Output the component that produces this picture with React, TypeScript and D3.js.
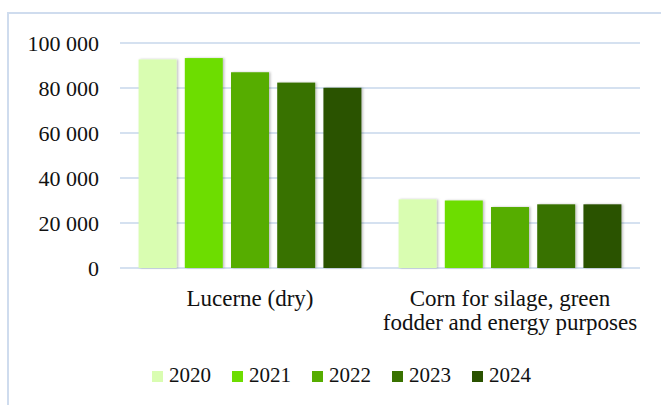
import React from "react";
import * as d3 from "d3";

const width = 661;
const height = 405;

const categories = ["Lucerne (dry)", "Corn for silage, green fodder and energy purposes"];
const categoryLines = [["Lucerne (dry)"], ["Corn for silage, green", "fodder and energy purposes"]];
const years = ["2020", "2021", "2022", "2023", "2024"];
const lucerne = [92700, 93300, 87000, 82400, 80100];
const corn = [30500, 30000, 27100, 28300, 28300];
const yTicks = [0, 20000, 40000, 60000, 80000, 100000];
const colors = ["#d9fdb1", "#6ddd00", "#56ad00", "#397200", "#2a5200"];

const series = [lucerne, corn];
const font = "'Times New Roman', Times, 'Liberation Serif', 'DejaVu Serif', serif";

const App = () => {
  const x0 = d3.scaleBand().domain(categories).range([120, 640]).paddingInner(0.143).paddingOuter(0.0715);
  const x1 = d3.scaleBand().domain(years).range([0, x0.bandwidth()]).paddingInner(0.178).paddingOuter(0);
  const y = d3.scaleLinear().domain([0, 100000]).range([268, 43]);
  const fmt = (v: number) => d3.format(",")(v).replace(/,/g, " ");

  const legendX = d3.scalePoint().domain(years).range([152, 472]);

  return (
    <svg width={width} height={height} style={{ position: "absolute", left: 0, top: 0, background: "#fff" }}>
      <defs>
        <filter id="shadow" x="-20%" y="-5%" width="140%" height="110%">
          <feDropShadow dx="1.5" dy="0" stdDeviation="1.2" floodColor="#000" floodOpacity="0.25" />
        </filter>
      </defs>
      {/* chart frame */}
      <rect x={8} y={13} width={700} height={450} fill="none" stroke="#cfdcee" strokeWidth={2} />

      {/* grid + y labels */}
      {yTicks.map((t) => (
        <g key={t}>
          <line x1={120} x2={640} y1={y(t)} y2={y(t)} stroke="#d5e1f0" strokeWidth={2} />
          <text x={99} y={y(t)} dy="0.35em" textAnchor="end" fontFamily={font} fontSize={22} fill="#111">
            {fmt(t)}
          </text>
        </g>
      ))}

      {/* bars */}
      {categories.map((c, ci) => (
        <g key={c} transform={`translate(${x0(c)},0)`}>
          {series[ci].map((v, i) => (
            <rect
              key={years[i]}
              x={x1(years[i])}
              y={y(v)}
              width={x1.bandwidth()}
              height={y(0) - y(v)}
              fill={colors[i]}
              filter="url(#shadow)"
            />
          ))}
        </g>
      ))}

      {/* category labels */}
      {categories.map((c, ci) => (
        <text
          key={c}
          x={(x0(c) || 0) + x0.bandwidth() / 2}
          y={306}
          textAnchor="middle"
          fontFamily={font}
          fontSize={23}
          fill="#111"
        >
          {categoryLines[ci].map((l, li) => (
            <tspan key={li} x={(x0(c) || 0) + x0.bandwidth() / 2} dy={li === 0 ? 0 : 24}>
              {l}
            </tspan>
          ))}
        </text>
      ))}

      {/* legend */}
      {years.map((yr, i) => (
        <g key={yr} transform={`translate(${legendX(yr)},0)`}>
          <rect x={0} y={371} width={11} height={11} fill={colors[i]} />
          <text x={17} y={382} fontFamily={font} fontSize={21} fill="#111">
            {yr}
          </text>
        </g>
      ))}
    </svg>
  );
};

export default App;
